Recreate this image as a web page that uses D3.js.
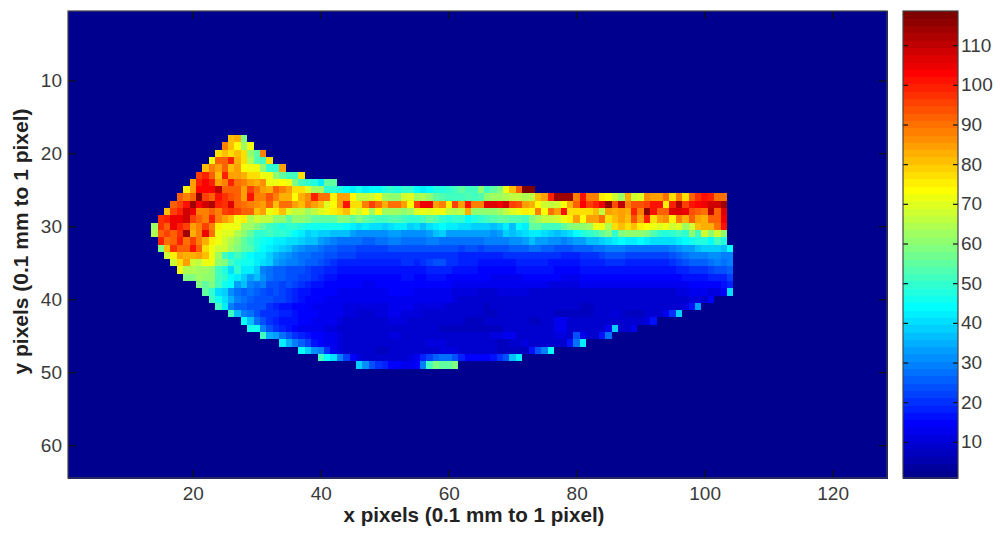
<!DOCTYPE html>
<html>
<head>
<meta charset="utf-8">
<script src="https://cdn.jsdelivr.net/npm/d3@7"></script>
<style>
html,body{margin:0;padding:0;background:#fff;}
svg{display:block;}
text{font-family:"Liberation Sans",Arial,sans-serif;fill:#333;}
</style>
</head>
<body>
<svg id="chart" width="1000" height="533"></svg>
<script>
const xTicks = [20,40,60,80,100,120];
const yTicks = [10,20,30,40,50,60];
const colorbarTicks = [10,20,30,40,50,60,70,80,90,100,110];
const xLabel = "x pixels (0.1 mm to 1 pixel)";
const yLabel = "y pixels (0.1 mm to 1 pixel)";
const columnCount = 128;
const rowCount = 64;
const backgroundValue = 1;
const colorLimits = [0.9, 118.6];

// First image column of each non-empty image row
const firstRow = 18;
const rowFirstColumn = [26,25,24,23,22,21,20,19,18,17,16,15,14,14,15,15,16,17,18,19,21,22,23,24,26,28,29,31,34,37,40,46];
// Intensity, one list per image row (row 18 to row 49)
const rowValues = [
[80,82,58],
[88,80,74,62,72],
[78,80,78,80,78,60,55,88],
[72,92,92,100,82,78,64,54,52,78],
[80,88,85,92,80,84,74,72,72,60,50,50,85],
[95,100,92,80,100,85,85,82,78,78,72,72,60,55,52,52,78],
[85,100,103,100,85,88,100,90,88,85,82,86,72,72,74,72,58,52,50,48,42,55,55],
[75,85,103,103,103,110,92,92,92,85,95,90,85,82,92,88,84,78,78,70,62,62,50,50,
 48,44,42,46,42,45,45,47,50,48,50,50,45,42,44,48,48,50,52,55,52,52,60,52,55,58,72,80,92,117,117],
[92,88,92,116,95,92,102,98,94,92,84,102,88,88,94,88,82,82,74,82,86,100,90,90,76,
 84,84,74,66,66,68,72,62,60,60,68,70,62,64,60,56,54,52,52,52,54,52,54,60,62,62,64,66,66,64,
 66,80,84,100,114,114,114,88,102,88,88,76,74,68,62,82,68,70,86,84,84,90,78,88,78,92,98,102,100,90,90],
[92,95,102,114,103,108,112,100,98,106,92,90,88,86,85,92,80,90,90,85,80,88,85,80,70,
 74,85,102,78,78,88,96,90,82,90,90,85,74,96,104,104,85,88,76,96,85,102,88,88,106,106,104,108,96,94,84,
 82,74,68,66,68,74,82,92,103,96,100,104,115,94,110,88,93,93,95,102,102,76,100,112,96,102,103,105,108,108,114],
[80,95,100,108,105,88,88,92,88,95,97,95,92,92,80,85,72,75,80,70,66,66,62,66,70,72,
 75,78,80,72,68,74,62,74,62,62,62,60,62,70,72,70,72,72,66,64,66,82,60,60,60,60,62,66,70,72,76,
 74,88,74,90,84,102,78,78,78,78,80,66,85,82,84,82,100,88,116,102,92,92,106,106,104,94,92,90,110,92,106],
[98,100,105,105,108,95,92,88,100,88,85,80,72,75,64,68,66,66,60,60,56,60,60,58,56,56,56,56,
 58,58,56,58,56,54,52,52,54,54,52,50,50,52,56,54,50,48,50,50,44,48,50,52,54,56,56,54,54,52,
 58,62,66,66,68,72,76,84,74,84,84,90,78,80,84,80,94,84,100,78,84,86,76,88,82,92,85,82,92,92,104],
[62,98,92,104,100,95,84,88,95,88,75,72,72,72,62,62,58,55,52,50,48,50,50,48,46,46,46,46,46,
 46,44,42,40,42,40,40,38,40,42,42,38,40,36,40,42,44,42,42,40,40,38,38,38,36,38,42,36,44,42,
 55,55,52,52,52,55,58,60,60,62,72,72,65,78,80,78,80,75,74,72,70,72,68,70,62,68,80,82,82,90,102],
[65,92,95,92,98,114,82,88,104,90,72,70,70,65,60,55,50,50,52,50,50,48,45,42,38,40,38,38,37,
 36,36,34,32,32,32,32,32,34,34,32,32,32,32,34,36,38,34,34,34,34,34,34,34,32,34,38,36,38,40,
 42,42,40,38,36,38,40,44,48,50,52,56,58,50,58,60,60,60,58,54,50,48,50,52,50,60,52,68,60,68,60],
[100,90,92,100,90,96,88,82,75,72,68,64,60,56,52,48,46,44,42,42,40,40,38,36,36,34,32,30,
 28,28,27,27,26,26,27,27,29,29,28,28,27,27,30,30,28,28,28,28,28,28,28,30,30,30,30,32,32,34,
 36,34,34,32,32,30,32,34,34,36,36,38,40,42,44,42,42,44,42,40,40,40,40,42,44,46,48,48,44,52,48],
[58,80,98,92,92,102,92,78,72,68,68,62,58,56,54,48,44,42,40,38,36,34,32,30,30,28,26,25,
 24,24,24,22,22,22,22,22,24,24,24,23,23,24,24,24,23,23,23,22,23,23,22,23,24,23,23,25,25,26,
 27,27,26,26,24,24,24,25,25,26,27,28,29,29,29,28,28,28,28,28,28,28,30,32,34,34,36,38,38,38,36,44],
[68,76,85,82,82,85,80,72,62,52,48,52,48,45,42,42,38,35,34,32,30,28,28,26,25,24,23,
 22,22,22,21,21,21,20,20,21,21,21,21,20,20,20,21,21,20,20,19,19,19,19,19,19,19,20,20,21,21,
 21,21,20,20,20,19,19,19,20,21,21,22,23,23,23,22,22,22,22,22,22,22,24,26,28,30,30,30,32,32,30,30],
[68,78,85,68,66,72,72,60,58,52,48,46,46,42,40,38,34,32,30,30,28,26,26,24,22,20,
 19,19,19,19,18,18,18,18,19,19,20,20,19,20,22,23,23,21,20,18,18,18,17,17,17,17,17,17,18,18,
 18,18,18,17,17,17,17,17,18,18,18,19,20,20,20,19,19,19,19,18,18,19,20,22,24,26,26,26,28,30,28,30],
[72,65,65,63,62,60,52,48,40,50,42,42,38,30,28,26,26,24,24,24,22,20,20,18,18,
 17,17,17,16,16,16,16,16,16,17,17,17,16,16,18,19,19,18,17,16,16,16,15,15,15,15,15,15,16,16,
 16,16,16,16,15,15,15,15,16,16,16,16,16,16,16,16,16,16,16,16,16,16,17,18,19,20,20,20,22,23,24,26],
[58,58,62,60,60,52,50,45,42,38,34,36,32,28,26,26,24,24,22,22,20,18,17,16,
 15,15,15,14,14,14,14,14,15,15,16,16,15,15,16,17,16,15,14,14,14,14,14,14,13,13,13,13,13,14,
 14,14,14,14,14,13,13,13,14,14,14,14,14,14,14,14,14,14,14,14,14,14,15,15,16,17,17,17,18,18,19,22],
[58,55,58,52,46,44,34,36,30,28,30,24,24,22,24,22,20,18,17,16,15,15,
 14,14,14,14,13,13,14,14,14,14,15,15,14,14,14,15,15,14,13,13,13,12,12,12,12,12,12,12,12,12,
 12,12,12,11,11,11,11,11,12,12,12,12,12,12,12,12,12,12,12,12,12,12,13,13,13,14,14,14,15,15,16,18],
[56,50,40,38,32,28,26,28,26,24,22,24,22,20,18,17,16,15,15,14,14,
 13,13,13,13,12,12,13,13,14,14,14,14,13,13,13,13,13,12,11,11,11,11,10,10,10,11,11,11,11,11,
 10,10,10,10,10,10,10,10,10,10,10,10,10,10,10,10,10,10,10,10,10,10,10,11,11,12,12,12,11,11,14,40],
[52,46,40,35,30,28,26,24,24,24,22,22,20,18,16,15,14,14,13,13,
 12,12,12,12,12,12,12,13,13,13,13,13,12,12,12,13,13,12,11,10,10,10,9,9,9,10,10,10,10,10,
 10,10,10,10,10,10,10,10,10,10,10,10,10,9,9,9,9,9,9,10,10,10,10,10,10,11,11,10,14],
[52,42,30,26,26,24,24,24,20,18,16,16,15,14,14,13,13,12,12,
 12,11,11,11,11,11,11,11,12,12,12,12,11,11,11,11,11,10,10,10,10,9,9,8,9,9,10,10,10,10,
 9,9,9,9,9,9,9,9,8,8,9,9,9,9,9,9,9,9,10,10,10,10,10,10,11,16,34],
[52,36,30,28,24,20,20,20,18,18,16,15,14,14,13,13,12,
 12,11,11,10,10,10,11,11,12,12,11,11,11,10,10,10,10,9,9,9,9,9,9,8,8,9,9,9,10,9,
 9,10,9,9,8,8,8,8,8,8,9,9,10,11,9,8,8,8,9,9,10,12,20,38],
[44,36,28,24,20,18,16,16,16,14,14,13,13,12,12,
 11,10,10,10,10,10,10,10,11,11,11,10,10,10,10,10,9,9,9,9,8,8,8,9,9,9,9,9,9,9,
 8,8,10,10,13,12,10,10,9,9,9,10,10,10,10,10,10,10,11,16],
[46,46,30,24,20,18,16,14,13,13,12,12,11,11,
 10,9,10,10,9,9,10,10,10,10,10,9,9,9,9,9,8,8,8,8,8,8,7,7,8,8,9,9,9,9,
 9,9,9,10,12,12,10,10,9,9,9,10,13,38,9,10,13],
[52,35,34,28,24,20,18,16,15,14,13,12,
 11,10,10,9,9,9,9,10,11,11,10,9,9,9,9,9,9,9,9,9,9,9,9,10,11,11,12,12,10,9,
 9,10,9,10,11,11,10,24,13,10,10,16,28],
[42,35,30,26,22,17,15,13,12,
 11,10,9,9,9,9,10,10,10,10,10,9,10,10,11,11,11,9,9,9,9,9,9,9,9,8,8,9,10,11,
 10,9,9,9,9,9,16,27,42],
[44,38,32,30,20,13,
 11,10,9,9,9,9,8,8,9,9,9,9,9,9,9,10,11,11,11,10,10,9,9,9,9,8,8,8,8,8,
 16,23,30,44],
[52,44,40,30,22,15,11,10,9,9,9,9,10,10,11,12,18,22,26,28,28,24,18,15,14,14,15,17,20,24,36,42],
[38,32,24,20,18,15,14,12,12,15,30,52,58,55,55,58]
];

// MATLAB jet colormap, 64 levels
const levelCount = 64;
function jetLevel(i){
  const f = (i + 1) / levelCount;
  const ramp = v => Math.round(255 * Math.max(0, Math.min(1, v)));
  const r = ramp(Math.min(4 * f - 1.5, -4 * f + 4.5));
  const g = ramp(Math.min(4 * f - 0.5, -4 * f + 3.5));
  const b = ramp(Math.min(4 * f + 0.5, -4 * f + 2.5));
  return `rgb(${r},${g},${b})`;
}
const jetColors = d3.range(levelCount).map(jetLevel);
const color = d3.scaleQuantize().domain(colorLimits).range(jetColors);

// Full grid built from the lists above
const cells = [];
d3.range(1, rowCount + 1).forEach(r => {
  d3.range(1, columnCount + 1).forEach(c => {
    const values = rowValues[r - firstRow];
    const start = rowFirstColumn[r - firstRow];
    let v = backgroundValue;
    if (values && c >= start && c < start + values.length) v = values[c - start];
    cells.push({r, c, v});
  });
});

const plot = {left: 68, right: 887, top: 11, bottom: 478};
const bar = {left: 903, right: 958};
const svg = d3.select("#chart");

const x = d3.scaleLinear().domain([0.5, columnCount + 0.5]).range([plot.left, plot.right]);
const y = d3.scaleLinear().domain([0.5, rowCount + 0.5]).range([plot.top, plot.bottom]);
const yBar = d3.scaleLinear().domain(colorLimits).range([plot.bottom, plot.top]);

// Heat map
svg.append("g").attr("shape-rendering", "crispEdges")
  .selectAll("rect").data(cells).join("rect")
  .attr("x", d => x(d.c - 0.5))
  .attr("y", d => y(d.r - 0.5))
  .attr("width", d => x(d.c + 0.5) - x(d.c - 0.5) + 0.5)
  .attr("height", d => y(d.r + 0.5) - y(d.r - 0.5) + 0.5)
  .attr("fill", d => color(d.v));

// Colour bar
const levelEdges = d3.range(levelCount + 1).map(i =>
  colorLimits[0] + (colorLimits[1] - colorLimits[0]) * i / levelCount);
svg.append("g").attr("shape-rendering", "crispEdges")
  .selectAll("rect").data(jetColors).join("rect")
  .attr("x", bar.left)
  .attr("width", bar.right - bar.left)
  .attr("y", (d, i) => yBar(levelEdges[i + 1]))
  .attr("height", (d, i) => yBar(levelEdges[i]) - yBar(levelEdges[i + 1]) + 0.5)
  .attr("fill", d => d);

function frame(g, left, right, top, bottom){
  g.append("rect").attr("x", left).attr("y", top)
    .attr("width", right - left).attr("height", bottom - top)
    .attr("fill", "none").attr("stroke", "#444").attr("stroke-width", 1.2);
}
function styleAxis(g, size){
  g.select(".domain").remove();
  g.selectAll(".tick line").attr("stroke", "#111").attr("stroke-width", 1.2);
  g.selectAll(".tick text").style("font-size", size + "px").style("fill", "#3a3a3a");
}
const fontSize = 19;

const axisB = svg.append("g").attr("transform", `translate(0,${plot.bottom})`)
  .call(d3.axisBottom(x).tickValues(xTicks).tickSizeInner(-8).tickPadding(9));
styleAxis(axisB, fontSize);
const axisT = svg.append("g").attr("transform", `translate(0,${plot.top})`)
  .call(d3.axisTop(x).tickValues(xTicks).tickSizeInner(-8).tickFormat(""));
styleAxis(axisT, fontSize);
const axisL = svg.append("g").attr("transform", `translate(${plot.left},0)`)
  .call(d3.axisLeft(y).tickValues(yTicks).tickSizeInner(-8).tickPadding(6));
styleAxis(axisL, fontSize);
const axisR = svg.append("g").attr("transform", `translate(${plot.right},0)`)
  .call(d3.axisRight(y).tickValues(yTicks).tickSizeInner(-8).tickFormat(""));
styleAxis(axisR, fontSize);
frame(svg, plot.left, plot.right, plot.top, plot.bottom);

const cbR = svg.append("g").attr("transform", `translate(${bar.right},0)`)
  .call(d3.axisRight(yBar).tickValues(colorbarTicks).tickSizeInner(-5).tickPadding(3));
styleAxis(cbR, fontSize);
const cbL = svg.append("g").attr("transform", `translate(${bar.left},0)`)
  .call(d3.axisLeft(yBar).tickValues(colorbarTicks).tickSizeInner(-5).tickFormat(""));
styleAxis(cbL, fontSize);
frame(svg, bar.left, bar.right, plot.top, plot.bottom);

svg.append("text").attr("x", 474).attr("y", 522).attr("text-anchor", "middle")
  .style("font-size", "20.6px").style("font-weight", "bold").style("fill", "#222").text(xLabel);
svg.append("text").attr("transform", "translate(27.5,241.5) rotate(-90)").attr("text-anchor", "middle")
  .style("font-size", "21px").style("font-weight", "bold").style("fill", "#222").text(yLabel);
</script>
</body>
</html>
